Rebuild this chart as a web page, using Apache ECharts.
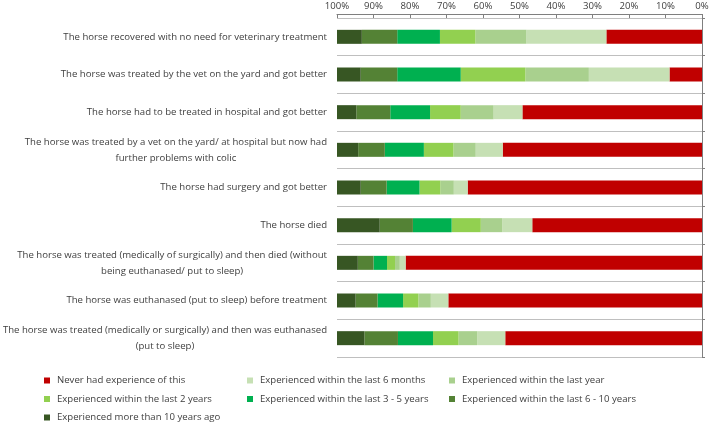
<!DOCTYPE html>
<html><head><meta charset="utf-8">
<script src="https://cdn.jsdelivr.net/npm/echarts@6/dist/echarts.min.js"></script>
<style>html,body{margin:0;padding:0;background:#fff}#c{width:709px;height:424px}</style>
</head><body><div id="c"></div>
<script>
const categories = [
  "The horse recovered with no need for veterinary treatment",
  "The horse was treated by the vet on the yard and got better",
  "The horse had to be treated in hospital and got better",
  "The horse was treated by a vet on the yard/ at hospital but now had\nfurther problems with colic",
  "The horse had surgery and got better",
  "The horse died",
  "The horse was treated (medically of surgically) and then died (without\nbeing euthanased/ put to sleep)",
  "The horse was euthanased (put to sleep) before treatment",
  "The horse was treated (medically or surgically) and then was euthanased\n(put to sleep)"
];
const seriesNames = [
  "Never had experience of this",
  "Experienced within the last 6 months",
  "Experienced within the last year",
  "Experienced within the last 2 years",
  "Experienced within the last 3 - 5 years",
  "Experienced within the last 6 - 10 years",
  "Experienced more than 10 years ago"
];
const neverExp   = [26.2, 8.9, 49.2, 54.6, 64.2, 46.5, 81.2, 69.5, 53.9];
const last6mo    = [21.9, 22.1, 7.9, 7.4, 3.8, 8.2, 1.6, 4.8, 7.7];
const lastYear   = [14.0, 17.4, 9.0, 6.1, 3.7, 5.9, 1.3, 3.4, 5.1];
const last2yr    = [9.7, 17.7, 8.4, 8.1, 5.7, 8.0, 2.2, 4.2, 7.0];
const last3to5   = [11.7, 17.4, 10.9, 10.7, 9.0, 10.6, 3.7, 7.0, 9.6];
const last6to10  = [9.7, 10.0, 9.3, 7.3, 7.1, 9.1, 4.3, 6.0, 9.2];
const over10     = [6.8, 6.5, 5.3, 5.8, 6.5, 11.7, 5.7, 5.1, 7.5];
const xTicks = [0, 100, 10];

const values = [neverExp, last6mo, lastYear, last2yr, last3to5, last6to10, over10];
const colors = ['#C00000', '#C6E0B4', '#A9D08E', '#92D050', '#00B050', '#548235', '#375623'];
const FONT = '"Open Sans", sans-serif';
const FS = 9.6;

const series = seriesNames.map((n, i) => ({
  name: n, type: 'bar', stack: 'total', data: values[i], barWidth: 14,
  itemStyle: { color: colors[i] }, yAxisIndex: 0
}));

function legend(names, left) {
  return {
    data: names, orient: 'vertical', left: left, top: 374.5, height: 80, padding: 0,
    icon: 'rect', itemWidth: 6, itemHeight: 6, itemGap: 6.5,
    textStyle: { fontFamily: FONT, fontSize: FS, color: '#404040', lineHeight: 12, padding: [0,0,0,2] },
    selectedMode: false
  };
}

const chart = echarts.init(document.getElementById('c'), null, { renderer: 'canvas' });
chart.setOption({
  animation: false,
  grid: { left: 337, right: 7, top: 18, bottom: 67, containLabel: false, outerBoundsMode: 'none' },
  xAxis: {
    type: 'value', position: 'top', inverse: true, min: xTicks[0], max: xTicks[1], interval: xTicks[2],
    offset: 4,
    axisLine: { show: true, lineStyle: { color: '#7f7f7f' } },
    axisTick: { show: true, inside: true, length: 4, lineStyle: { color: '#7f7f7f' } },
    axisLabel: { formatter: '{value}%', fontFamily: FONT, fontSize: FS, color: '#404040', margin: 3 },
    splitLine: { show: false }
  },
  yAxis: [{
    type: 'category', data: categories, inverse: true, position: 'left',
    axisLine: { show: false }, axisTick: { show: false },
    splitLine: { show: true, lineStyle: { color: '#bfbfbf' } },
    axisLabel: {
      margin: 10, fontFamily: FONT, fontSize: FS, color: '#404040',
      formatter: v => v.split('\n').map(l => '{a|' + l + '}').join('\n'),
      rich: { a: { align: 'center', fontFamily: FONT, fontSize: FS, color: '#404040', lineHeight: 16 } }
    }
  }, {
    type: 'category', data: categories, inverse: true, position: 'right',
    axisLine: { show: true, lineStyle: { color: '#7f7f7f' } },
    axisTick: { show: true, length: 3, lineStyle: { color: '#7f7f7f' } },
    axisLabel: { show: false }, splitLine: { show: false }
  }],
  legend: [
    legend([seriesNames[0], seriesNames[3], seriesNames[6]], 44),
    legend([seriesNames[1], seriesNames[4]], 247),
    legend([seriesNames[2], seriesNames[5]], 449)
  ],
  series: series
});
</script></body></html>
